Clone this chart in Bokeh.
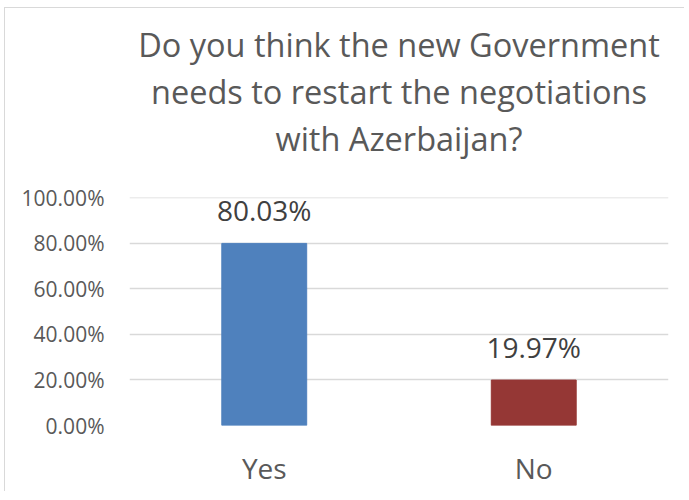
from bokeh.plotting import figure
from bokeh.models import ColumnDataSource, FactorRange, Range1d, NumeralTickFormatter, FixedTicker, Title
from bokeh.core.properties import value
from bokeh.embed import file_html
from bokeh.resources import INLINE

categories = ["Yes", "No"]
shares = [0.8003, 0.1997]
colors = ["#4F81BD", "#953735"]
y_ticks = [0.0, 0.2, 0.4, 0.6, 0.8, 1.0]
title_lines = ["Do you think the new Government",
               "needs to restart the negotiations",
               "with Azerbaijan?"]

FONT = "Open Sans"

src = ColumnDataSource(dict(
    cat=categories,
    val=shares,
    color=colors,
    label=[f"{v:.2%}" for v in shares],
))

p = figure(
    x_range=FactorRange(*categories, range_padding=0.0),
    y_range=Range1d(0, 1.002),
    width=680, height=484,
    output_backend="svg", toolbar_location=None,
    min_border_left=124, min_border_right=17,
    min_border_top=189, min_border_bottom=67,
)
p.styles = {"border-left": "1px solid #D9D9D9", "border-top": "1px solid #D9D9D9",
            "margin-left": "4px", "margin-top": "7px"}


def style_title(t, size="32.5px", standoff=0):
    t.align = "center"
    t.text_font = FONT
    t.text_font_size = size
    t.text_font_style = "normal"
    t.text_color = "#595959"
    t.standoff = standoff


# title panels stack outward from the plot area: spacer, line 3, line 2, then p.title (line 1)
p.title.text = title_lines[0]
style_title(p.title)
spacer = Title(text=" ")
style_title(spacer, size="1px", standoff=34)
p.add_layout(spacer, "above")
t3 = Title(text=title_lines[2])
style_title(t3)
p.add_layout(t3, "above")
t2 = Title(text=title_lines[1])
style_title(t2)
p.add_layout(t2, "above")

p.vbar(x="cat", top="val", width=0.315, color="color", source=src)
p.text(x="cat", y="val", text="label", source=src, text_align="center",
       text_baseline="alphabetic", y_offset=-33, text_font=value(FONT),
       text_font_size="28px", text_color="#404040")

p.outline_line_color = None
p.background_fill_color = "white"
p.border_fill_color = "white"

p.xgrid.grid_line_color = None
p.ygrid.grid_line_color = "#D9D9D9"
p.ygrid.grid_line_width = 1.3

p.yaxis.ticker = FixedTicker(ticks=y_ticks)
p.yaxis.formatter = NumeralTickFormatter(format="0.00%")
p.yaxis.axis_line_color = None
p.yaxis.major_tick_line_color = None
p.yaxis.minor_tick_line_color = None
p.yaxis.major_label_text_font = FONT
p.yaxis.major_label_text_font_size = "21px"
p.yaxis.major_label_text_color = "#595959"
p.yaxis.major_label_standoff = 19

p.xaxis.axis_line_color = None
p.xaxis.major_tick_line_color = None
p.xaxis.minor_tick_line_color = None
p.xaxis.major_label_text_font = FONT
p.xaxis.major_label_text_font_size = "28px"
p.xaxis.major_label_text_color = "#595959"
p.xaxis.major_label_standoff = 17

open("out.html", "w").write(file_html(p, INLINE))
